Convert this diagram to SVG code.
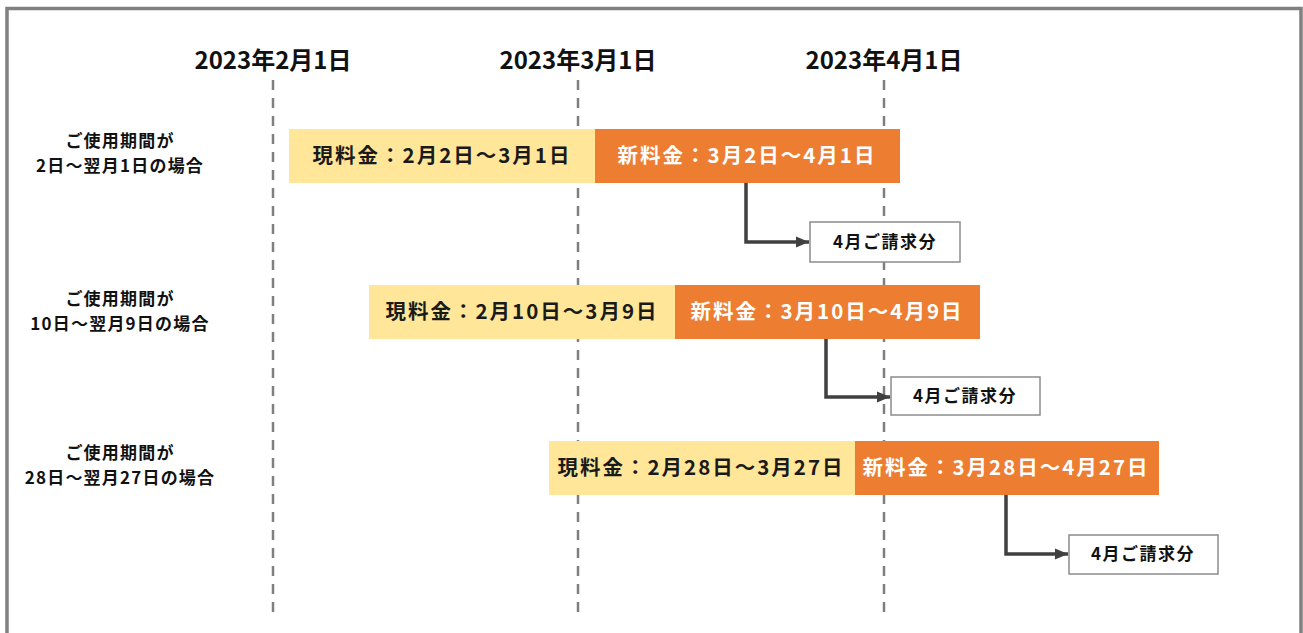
<svg xmlns="http://www.w3.org/2000/svg" width="1303" height="633" viewBox="0 0 1303 633">
<defs>
<style>
text{font-family:"Noto Sans CJK JP","Noto Sans",sans-serif;font-weight:bold;text-anchor:middle}
.date{font-size:24px;fill:#111}
.lbl{font-size:17px;fill:#111;letter-spacing:1.2px}
.bar{font-size:20.5px;letter-spacing:2px}
.old{fill:#FFE699}
.new{fill:#ED7D31}
.oldt{fill:#1a1a1a}
.newt{fill:#ffffff}
.grid{stroke:#7f7f7f;stroke-width:2.5;stroke-dasharray:10 8;fill:none}
.conn{stroke:#404040;stroke-width:3.5;fill:none}
.box{fill:#fff;stroke:#8c8c8c;stroke-width:1.5}
.boxt{font-size:17px;fill:#111;letter-spacing:1.5px}
</style>
<marker id="arr" markerUnits="userSpaceOnUse" markerWidth="14" markerHeight="14" viewBox="0 0 14 14" refX="13" refY="7" orient="auto">
<path d="M0,1.5 L13,7 L0,12.5 Z" fill="#404040"/>
</marker>
</defs>
<rect width="1303" height="633" fill="#fff"/>
<rect id="frame" x="7" y="8.5" width="1294" height="700" fill="none" stroke="#808080" stroke-width="3.5"/>

<g id="timeline">
<g id="d-feb"><text class="date" x="273" y="69">2023年2月1日</text><line class="grid" x1="273" y1="80" x2="273" y2="620"/></g>
<g id="d-mar"><text class="date" x="578" y="69">2023年3月1日</text><line class="grid" x1="578" y1="80" x2="578" y2="620"/></g>
<g id="d-apr"><text class="date" x="884" y="69">2023年4月1日</text><line class="grid" x1="884" y1="80" x2="884" y2="620"/></g>
</g>

<g id="row-labels">
<g id="label1"><text class="lbl" x="120" y="147">ご使用期間が</text><text class="lbl" x="120" y="172">2日～翌月1日の場合</text></g>
<g id="label2"><text class="lbl" x="120" y="305">ご使用期間が</text><text class="lbl" x="120" y="330">10日～翌月9日の場合</text></g>
<g id="label3"><text class="lbl" x="120" y="459">ご使用期間が</text><text class="lbl" x="120" y="484">28日～翌月27日の場合</text></g>
</g>

<g id="connectors">
<path class="conn" d="M746,183 V242 H809" marker-end="url(#arr)"/>
<path class="conn" d="M826,339 V397 H890" marker-end="url(#arr)"/>
<path class="conn" d="M1006,495 V554 H1068" marker-end="url(#arr)"/>
</g>

<g id="old1"><rect class="old" x="289" y="129" width="306" height="54"/><text class="bar oldt" x="442" y="163">現料金：2月2日～3月1日</text></g>
<g id="new1"><rect class="new" x="595" y="129" width="305" height="54"/><text class="bar newt" x="747" y="163">新料金：3月2日～4月1日</text></g>
<g id="bill1"><rect class="box" x="810" y="222" width="150" height="40"/><text class="boxt" x="885" y="248">4月ご請求分</text></g>

<g id="old2"><rect class="old" x="369" y="285" width="306" height="54"/><text class="bar oldt" x="522" y="319">現料金：2月10日～3月9日</text></g>
<g id="new2"><rect class="new" x="675" y="285" width="305" height="54"/><text class="bar newt" x="827" y="319">新料金：3月10日～4月9日</text></g>
<g id="bill2"><rect class="box" x="891" y="377" width="149" height="38"/><text class="boxt" x="965" y="402">4月ご請求分</text></g>

<g id="old3"><rect class="old" x="549" y="441" width="306" height="54"/><text class="bar oldt" x="701" y="475">現料金：2月28日～3月27日</text></g>
<g id="new3"><rect class="new" x="855" y="441" width="304" height="54"/><text class="bar newt" x="1006" y="475">新料金：3月28日～4月27日</text></g>
<g id="bill3"><rect class="box" x="1069" y="535" width="149" height="39"/><text class="boxt" x="1143" y="560">4月ご請求分</text></g>
</svg>
